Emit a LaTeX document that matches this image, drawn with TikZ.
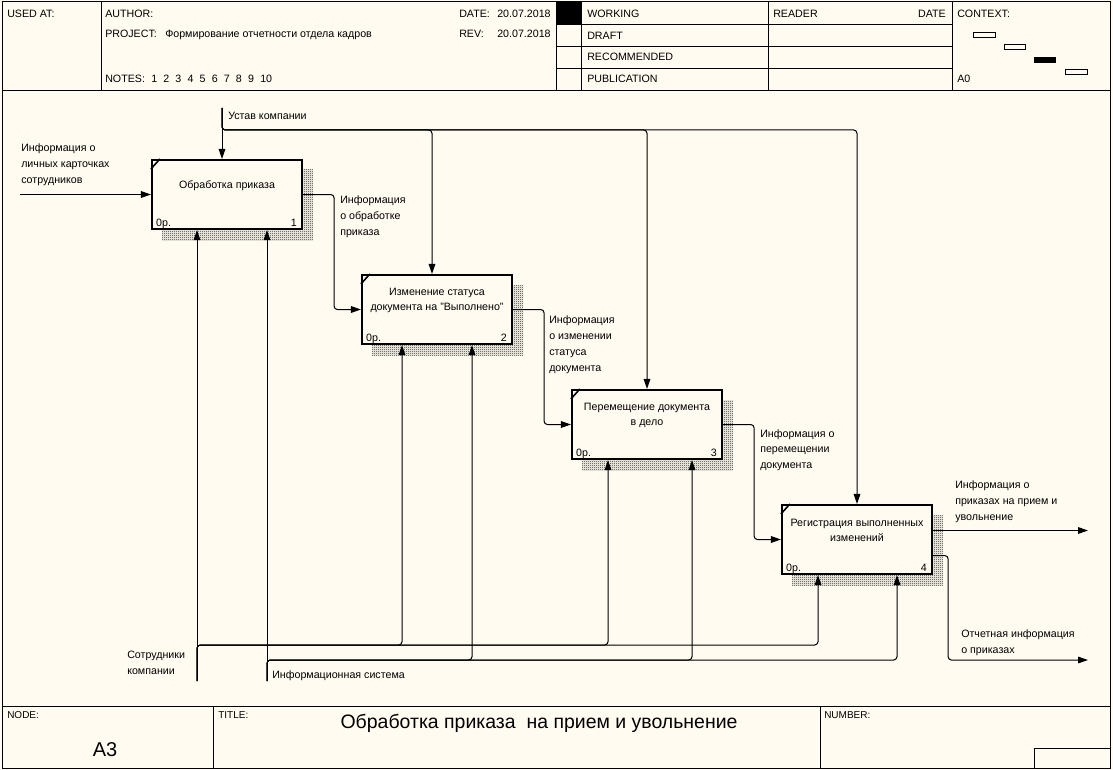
\documentclass[tikz,border=0pt]{standalone}
\usepackage{fontspec}
\setmainfont{Liberation Sans}
\usetikzlibrary{arrows.meta,patterns}
\definecolor{bgc}{HTML}{FFFBF0}
\pgfdeclarepatternformonly{checker}{\pgfpointorigin}{\pgfqpoint{1.5pt}{1.5pt}}{\pgfqpoint{1.5pt}{1.5pt}}{%
  \pgfpathrectangle{\pgfpointorigin}{\pgfqpoint{0.75pt}{0.75pt}}%
  \pgfpathrectangle{\pgfqpoint{0.75pt}{0.75pt}}{\pgfqpoint{0.75pt}{0.75pt}}%
  \pgfusepath{fill}}
\begin{document}
\begin{tikzpicture}[x=0.75pt,y=-0.75pt,
  every node/.style={inner sep=0pt,font=\fontsize{8}{12}\selectfont},
  frameline/.style={line width=0.75pt},
  actbox/.style={draw,line width=1.6pt,fill=bgc,minimum width=112.5pt,minimum height=51.75pt},
  shadowfill/.style={pattern=checker,pattern color=black!85},
  conn/.style={line width=0.75pt,rounded corners=2.5pt},
  arr/.style={conn,-{Triangle[length=7.5pt,width=5pt]}},
  lbl/.style={anchor=north west,align=left},
  boxtxt/.style={align=center,font=\fontsize{8}{11.25}\selectfont},
  hdr/.style={anchor=base west},
  tick/.style={line width=1.2pt},
  smallhdr/.style={anchor=base west,font=\fontsize{7.5}{9}\selectfont},
]
\useasboundingbox (0,0) rectangle (1113,770);
\fill[bgc] (0,0) rectangle (1113,770);

% ---------- frame ----------
\draw[frameline] (2,2) rectangle (1110,768);
\draw[frameline] (2,91) -- (1110,91);
\draw[frameline] (2,706) -- (1110,706);
\draw[frameline] (101,2) -- (101,91);
\draw[frameline] (556,2) -- (556,91);
\draw[frameline] (581,2) -- (581,91);
\draw[frameline] (768,2) -- (768,91);
\draw[frameline] (952,2) -- (952,91);
\foreach \yy in {25,47,69} \draw[frameline] (556,\yy) -- (952,\yy);
\fill (556,2) rectangle (581,25);

% header texts
\node[hdr] (usedat) at (7,18) {USED AT:};
\node[hdr] (author) at (105,18) {AUTHOR:};
\node[hdr] (date1) at (459,18) {DATE:};
\node[hdr] (date2) at (497,18) {20.07.2018};
\node[hdr] (project) at (105,38) {PROJECT:};
\node[hdr] (projname) at (165,38) {Формирование отчетности отдела кадров};
\node[hdr] (rev1) at (459,38) {REV:};
\node[hdr] (rev2) at (497,38) {20.07.2018};
\node[hdr] (notes) at (105,83) {NOTES:};
\foreach \i in {1,...,9} \node[hdr] (note\i) at (151+12.1*\i-12.1,83) {\i};
\node[hdr] (note10) at (260,83) {10};
\node[hdr] (working) at (587,18) {WORKING};
\node[hdr] (draft) at (587,39.5) {DRAFT};
\node[hdr] (recommended) at (587,61) {RECOMMENDED};
\node[hdr] (publication) at (587,83) {PUBLICATION};
\node[hdr] (reader) at (773,18) {READER};
\node[anchor=base east] (rdate) at (946,18) {DATE};
\node[hdr] (context) at (957,18) {CONTEXT:};
\node[hdr] (a0) at (957,83) {A0};
% context thumbnails
\draw[frameline] (973,33) rectangle (995,38);
\draw[frameline] (1004,45) rectangle (1025,50);
\fill (1034,57) rectangle (1056,63);
\draw[frameline] (1065,70) rectangle (1087,75);

% footer
\draw[frameline] (213,706) -- (213,768);
\draw[frameline] (820,706) -- (820,768);
\draw[frameline] (1034,768) |- (1110,748);
\node[smallhdr] (nodelbl) at (7,718.5) {NODE:};
\node[smallhdr] (titlelbl) at (218,718.5) {TITLE:};
\node[smallhdr] (numberlbl) at (824,718.5) {NUMBER:};
\node[anchor=base,font=\fontsize{15}{18}\selectfont] (nodeval) at (105,756) {A3};
\node[anchor=base,font=\fontsize{14.6}{18}\selectfont] (title) at (539,728) {Обработка приказа\ \ на прием и увольнение};

% ---------- shadows ----------
\foreach \L/\T in {152/160,362/275,572/390,782/505}
  \fill[shadowfill] (\L+10,\T+10) rectangle (\L+161,\T+80);

% ---------- boxes ----------
\node[actbox] (b1) at (227,194.5) {};
\node[actbox] (b2) at (437,309.5) {};
\node[actbox] (b3) at (647,424.5) {};
\node[actbox] (b4) at (857,539.5) {};
\foreach \b/\n in {b1/1,b2/2,b3/3,b4/4}{
  \draw[tick] ([yshift=-7.5pt]\b.north west) -- ([xshift=6.75pt]\b.north west);
  \node[anchor=base west] (\b cost) at ([xshift=3.75pt,yshift=3pt]\b.south west) {0р.};
  \node[anchor=base east] (\b num) at ([xshift=-4.5pt,yshift=3pt]\b.south east) {\n};
}
\node[boxtxt] (t1) at ([yshift=6.6pt]b1.center) {Обработка приказа};
\node[boxtxt] (t2) at ([yshift=6.6pt]b2.center) {Изменение статуса\\документа на "Выполнено"};
\node[boxtxt] (t3) at ([yshift=6.6pt]b3.center) {Перемещение документа\\в дело};
\node[boxtxt] (t4) at ([yshift=6.6pt]b4.center) {Регистрация выполненных\\изменений};

% ---------- inputs / outputs ----------
\coordinate (in1) at (20,194.5);
\draw[arr] (in1) -- (b1.west);
\draw[arr] (b1.east) -- ++(31,0) |- (b2.west);
\draw[arr] (b2.east) -- ++(31,0) |- (b3.west);
\draw[arr] (b3.east) -- ++(31,0) |- (b4.west);
\coordinate (out4a) at (1088,530.5);
\coordinate (out4b) at (1088,660);
\draw[arr] ([yshift=6.75pt]b4.east) -- (out4a);
\draw[arr] ([yshift=-12pt]b4.east) -- ++(15,0) |- (out4b);

% ---------- controls ----------
\coordinate (c0) at (222,108);
\coordinate (k2) at (432,130);
\coordinate (k3) at (647,130);
\coordinate (k4) at (857,130);
\draw[arr] (c0) -- (c0 |- b1.north);
\draw[arr] (c0) |- (k2) -- (k2 |- b2.north);
\draw[arr] (c0) |- (k3) -- (k3 |- b3.north);
\draw[arr] (c0) |- (k4) -- (k4 |- b4.north);

% ---------- mechanisms ----------
\coordinate (m1) at (197,681);
\coordinate (m2) at (267,681);
\coordinate (s2) at (402,645);
\coordinate (s3) at (608,645);
\coordinate (s4) at (818,645);
\coordinate (u2) at (472,660);
\coordinate (u3) at (692,660);
\coordinate (u4) at (897,660);
\draw[arr] (m1) -- (m1 |- b1.south);
\draw[arr] (m2) -- (m2 |- b1.south);
\draw[arr] (m1) |- (s2) -- (s2 |- b2.south);
\draw[arr] (m1) |- (s3) -- (s3 |- b3.south);
\draw[arr] (m1) |- (s4) -- (s4 |- b4.south);
\draw[arr] (m2) |- (u2) -- (u2 |- b2.south);
\draw[arr] (m2) |- (u3) -- (u3 |- b3.south);
\draw[arr] (m2) |- (u4) -- (u4 |- b4.south);

% ---------- labels ----------
\node[lbl] (lin1) at (21,144) {Информация о\\личных карточках\\сотрудников};
\node[lbl] (lo1) at (340,196) {Информация\\о обработке\\приказа};
\node[lbl] (lo2) at (549,316) {Информация\\о изменении\\статуса\\документа};
\node[lbl] (lo3) at (760,429) {Информация о\\перемещении\\документа};
\node[lbl] (lo4a) at (955,480) {Информация о\\приказах на прием и\\увольнение};
\node[lbl] (lo4b) at (961,629) {Отчетная информация\\о приказах};
\node[lbl] (lc) at (228,111.5) {Устав компании};
\node[lbl] (lm1) at (127,651) {Сотрудники\\компании};
\node[lbl] (lm2) at (272,670) {Информационная система};
\end{tikzpicture}
\end{document}
